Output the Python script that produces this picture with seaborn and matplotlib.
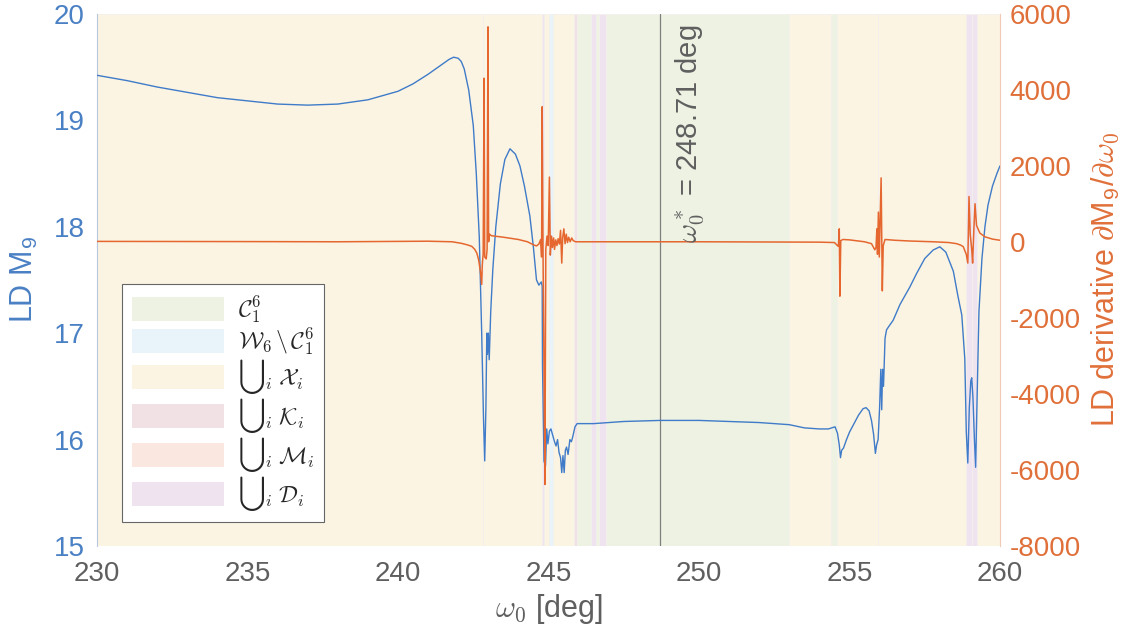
import numpy as np
import pandas as pd
import matplotlib
matplotlib.use("Agg")
import matplotlib.pyplot as plt
import seaborn as sns
from matplotlib.patches import Patch

# ---------------- data ----------------
omega_ld = [230.0, 231.0, 232.0, 233.0, 234.0, 235.0, 236.0, 237.0, 238.0, 239.0,
            240.0, 240.5, 241.0, 241.3, 241.5, 241.7, 241.85, 242.0, 242.1, 242.2, 242.35,
            242.5, 242.6,
            242.7, 242.78, 242.84, 242.88, 242.92, 242.95, 242.97, 243.0, 243.03, 243.08,
            243.15, 243.25, 243.4, 243.55, 243.72, 243.9, 244.05, 244.2, 244.38, 244.5,
            244.6, 244.68, 244.76, 244.79, 244.8, 244.85, 244.9, 244.94, 244.98, 245.03,
            245.08, 245.12, 245.2, 245.25, 245.3, 245.35, 245.4, 245.44, 245.48, 245.52,
            245.56, 245.6, 245.65, 245.71, 245.76, 245.8, 245.88, 245.95, 246.5, 247.5,
            248.7, 250.0, 251.0, 252.0, 253.0, 253.5, 254.0, 254.3, 254.52, 254.6,
            254.66, 254.7, 254.74, 254.8, 254.9, 255.0, 255.15, 255.3, 255.45, 255.55,
            255.65, 255.73, 255.8, 255.86, 255.9, 255.95, 256.0, 256.04, 256.07, 256.1,
            256.13, 256.18, 256.23, 256.3, 256.45, 256.68, 257.0, 257.23, 257.5, 257.78,
            258.0, 258.2, 258.45, 258.6, 258.73, 258.83, 258.88, 258.93, 258.98, 259.03,
            259.06, 259.1, 259.15, 259.19, 259.24, 259.3, 259.4, 259.5, 259.6, 259.75,
            259.9, 260.0]
ld_m9 = [19.42, 19.37, 19.31, 19.26, 19.21, 19.18, 19.15, 19.14, 19.15, 19.19,
         19.27, 19.34, 19.43, 19.49, 19.53, 19.57, 19.59, 19.58, 19.55, 19.48, 19.28,
         18.95, 18.50,
         17.90, 17.00, 16.20, 15.80, 16.30, 17.00, 16.80, 17.00, 16.75, 17.20,
         17.60, 18.00, 18.40, 18.63, 18.73, 18.68, 18.57, 18.38, 18.10, 17.80,
         17.50, 17.45, 17.48, 17.44, 16.70, 15.80, 15.75, 16.10, 15.96, 16.08,
         16.10, 16.06, 15.98, 15.94, 16.00, 15.88, 15.83, 15.69, 15.85, 15.69,
         15.90, 15.93, 15.86, 16.00, 15.98, 16.02, 16.12, 16.15, 16.15, 16.17,
         16.18, 16.18, 16.17, 16.16, 16.14, 16.11, 16.10, 16.10, 16.12, 16.06,
         15.95, 15.83, 15.90, 15.92, 16.00, 16.07, 16.15, 16.23, 16.29, 16.30,
         16.27, 16.18, 16.05, 15.87, 15.95, 16.00, 16.30, 16.66, 16.28, 16.66,
         16.50, 16.95, 17.03, 17.06, 17.12, 17.27, 17.43, 17.56, 17.70, 17.78,
         17.81, 17.76, 17.58, 17.35, 17.17, 16.76, 16.07, 15.78, 16.30, 16.55,
         16.58, 16.40, 16.00, 15.74, 16.40, 17.20, 17.70, 18.00, 18.20, 18.38,
         18.50, 18.57]

omega_der = [230.0, 235.0, 238.0, 240.0, 241.0, 241.8, 242.1, 242.3, 242.45, 242.55,
             242.62, 242.68, 242.74, 242.78, 242.8, 242.83, 242.86, 242.88, 242.93, 242.96,
             242.99, 243.01, 243.04, 243.1, 243.5, 244.0, 244.3, 244.5, 244.6, 244.68,
             244.74, 244.77, 244.79, 244.82, 244.85, 244.88, 244.91, 244.95, 244.99, 245.03,
             245.06, 245.1, 245.13, 245.17, 245.2, 245.24, 245.28, 245.32, 245.36, 245.4,
             245.44, 245.47, 245.51, 245.55, 245.59, 245.63, 245.67, 245.72, 245.77, 245.82,
             245.9, 246.5, 250.0, 254.0, 254.5, 254.6, 254.63, 254.66, 254.68, 254.71,
             254.78, 255.0, 255.5, 255.73, 255.84, 255.88, 255.91, 255.93, 255.96, 255.99,
             256.05, 256.09, 256.12, 256.18, 256.5, 257.0, 257.78, 258.3, 258.56, 258.7,
             258.78, 258.84, 258.88, 258.93, 258.97, 259.01, 259.06, 259.09, 259.13, 259.17,
             259.22, 259.33, 259.5, 259.75, 260.0]
ld_deriv = [10, 5, 0, 10, 15, 0, -40, -80, -120, -200,
            -300, -480, -800, -1120, -600, -300, 4300, -400, -450, -200,
            5650, 0, 200, 160, 120, 60, 0, -80, -110, -60,
            60, -400, 3550, -500, -3300, -6380, -200, 150, -100, 1700,
            -350, 150, -150, 100, -200, 50, -100, 80, -60, 300,
            -560, 100, 340, -50, 200, -20, 120, 0, 100, 30,
            0, 0, 0, -10, -20, -100, -120, 340, -1430, 30,
            60, 50, 0, -50, -210, -150, 340, -330, 780, -400,
            1680, -1290, -100, 60, 40, 20, 0, -20, -50, -90,
            -130, -250, -330, -560, 1190, 200, -200, -560, 300, 1000,
            430, 230, 130, 70, 40]

omega_star = 248.71

# region intervals (deg)
x_regions = [(230.0, 242.82), (242.82, 244.79), (244.86, 245.03), (245.14, 245.85),
             (253.0, 254.37), (254.6, 255.96), (255.96, 258.87), (259.22, 260.0)]
c_regions = [(245.94, 246.4), (246.58, 246.69), (246.91, 253.0), (254.37, 254.6)]
w_regions = [(245.03, 245.14)]
k_regions = [(245.85, 245.94)]
m_regions = []
d_regions = [(244.79, 244.86), (246.4, 246.58), (246.69, 246.91),
             (258.87, 259.07), (259.07, 259.22)]

legend_labels = [r"$\mathcal{C}_1^6$", r"$\mathcal{W}_6\,\backslash\,\mathcal{C}_1^6$",
                 r"${\bigcup}_i\;\mathcal{X}_i$", r"${\bigcup}_i\;\mathcal{K}_i$",
                 r"${\bigcup}_i\;\mathcal{M}_i$", r"${\bigcup}_i\;\mathcal{D}_i$"]

x_ticks = [230, 235, 240, 245, 250, 255, 260]
left_ticks = [15, 16, 17, 18, 19, 20]
right_ticks = [-8000, -6000, -4000, -2000, 0, 2000, 4000, 6000]

# ---------------- style ----------------
sns.set_style("white")
plt.rcParams["font.family"] = ["Liberation Sans", "DejaVu Sans"]
plt.rcParams["mathtext.fontset"] = "cm"

col_green = "#EDF2E3"
col_blue = "#E8F3FA"
col_yellow = "#FBF4E3"
col_pink = "#F2E1E4"
col_m = "#FAE8E0"
col_purple = "#EFE3EF"

blue_line = "#3F7BC8"
blue_txt = "#4A80C4"
orange_line = "#E5672F"
orange_txt = "#E0703A"
gray_txt = "#5F5F5F"

fig = plt.figure(figsize=(11.4, 6.44), dpi=100)
ax = fig.add_axes([0.0851, 0.152, 0.7921, 0.827])
ax2 = ax.twinx()

for regs, col in [(x_regions, col_yellow), (c_regions, col_green), (w_regions, col_blue),
                  (k_regions, col_pink), (m_regions, col_m), (d_regions, col_purple)]:
    for a, b in regs:
        ax.axvspan(a, b, facecolor=col, edgecolor="#F3F0EC", linewidth=0.6, zorder=0)

ax.axvline(omega_star, color="#7F7F7F", linewidth=0.9, zorder=1)

df_ld = pd.DataFrame({"omega": omega_ld, "ld": ld_m9})
df_der = pd.DataFrame({"omega": omega_der, "der": ld_deriv})

sns.lineplot(data=df_ld, x="omega", y="ld", ax=ax, color=blue_line, linewidth=1.0,
             sort=False, estimator=None, zorder=3)
sns.lineplot(data=df_der, x="omega", y="der", ax=ax2, color=orange_line, linewidth=1.1,
             sort=False, estimator=None, zorder=3)

ax.set_xlim(230, 260)
ax.set_ylim(15, 20)
ax2.set_ylim(-8000, 6000)
ax.set_xticks(x_ticks)
ax.set_yticks(left_ticks)
ax2.set_yticks(right_ticks)
ax2.set_yticklabels([str(v) for v in right_ticks])

ax.tick_params(axis="x", colors=gray_txt, labelsize=20, direction="in", length=5,
               width=0.6, pad=11)
ax.tick_params(axis="x", color="#9A9A9A")
ax.tick_params(axis="y", colors=blue_txt, labelsize=20, direction="in", length=0, pad=9)
ax2.tick_params(axis="y", colors=orange_txt, labelsize=20, direction="in", length=0, pad=7)

for s in ["top", "bottom"]:
    ax.spines[s].set_visible(False)
    ax2.spines[s].set_visible(False)
ax.spines["right"].set_visible(False)
ax2.spines["left"].set_visible(False)
ax.spines["left"].set_color("#B7C8E0")
ax.spines["left"].set_linewidth(0.8)
ax2.spines["right"].set_color("#F2C9B4")
ax2.spines["right"].set_linewidth(0.8)

ax.set_xlabel(r"$\omega_0$ [deg]", fontsize=22, color=gray_txt, labelpad=3)
ax.set_ylabel(r"LD M$_\mathregular{9}$", fontsize=22, color=blue_txt, labelpad=10)
ax2.set_ylabel(r"LD derivative $\partial$M$_\mathregular{9}$/$\partial\omega_0$",
               fontsize=22, color=orange_txt, labelpad=6)

ax2.text(omega_star + 0.45, -20, r"$\omega_0^*$ = 248.71 deg", rotation=90,
         ha="left", va="bottom", fontsize=21, color=gray_txt, zorder=4)

handles = [Patch(facecolor=c, edgecolor="none") for c in
           [col_green, col_blue, col_yellow, col_pink, col_m, col_purple]]
leg = ax2.legend(handles, legend_labels, loc="lower left",
                 bbox_to_anchor=(0.028, 0.045), fontsize=17, frameon=True,
                 fancybox=False, framealpha=1.0, edgecolor="#666666",
                 handlelength=3.9, handleheight=1.2, labelspacing=0.0,
                 borderpad=0.4, handletextpad=0.6, borderaxespad=0)
leg.get_frame().set_linewidth(0.8)
leg.set_zorder(10)

ax.set_zorder(ax2.get_zorder() - 1)
ax.patch.set_visible(False)

fig.savefig("out.png", dpi=100)
